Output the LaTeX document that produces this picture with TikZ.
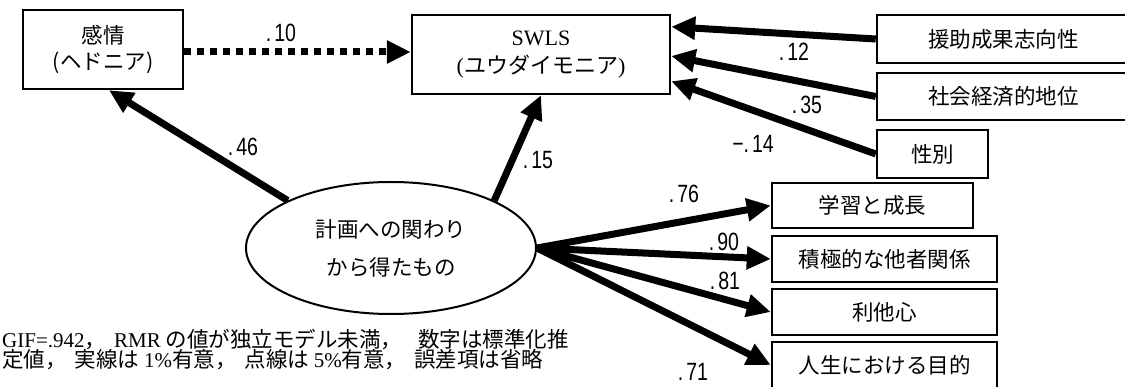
\documentclass[tikz,border=0pt]{standalone}
\usepackage{fontspec}
\setmainfont{Liberation Serif}
\newfontfamily\jp{Noto Sans CJK JP}
\newfontfamily\num[FakeStretch=0.78]{Liberation Sans}
\newcommand\lat[1]{{\rmfamily\fontsize{21}{21}\selectfont #1}}
\usetikzlibrary{arrows.meta,shapes.geometric,calc}
\begin{document}
\begin{tikzpicture}[x=1pt,y=-1pt,
  box/.style={draw, line width=2.5pt, rectangle, inner sep=0pt, align=center, font=\jp\fontsize{21.5}{26}\selectfont},
  arr/.style={line width=7pt, -{Triangle[length=24pt,width=22pt]}},
  dotarr/.style={arr, dash pattern=on 7pt off 6pt},
  lbl/.style={inner sep=0pt, font=\num\fontsize{25}{25}\selectfont},
  captext/.style={inner sep=0pt, anchor=base west, align=left, font=\jp\fontsize{21.5}{21.5}\selectfont}]
\useasboundingbox (0,0) rectangle (1125,387);
% boxes
\node[box, minimum width=160pt, minimum height=79pt] (kanjo) at (103,49.5) {感情\\(ヘドニア)};
\node[box, minimum width=258pt, minimum height=79pt, font=\rmfamily\fontsize{22}{28}\selectfont] (swls) at (541,54.5) {SWLS\\({\jp ユウダイモニア})};
\node[box, minimum width=253pt, minimum height=48pt] (enjo) at (1003.5,39) {援助成果志向性};
\node[box, minimum width=253pt, minimum height=47pt] (shakai) at (1003.5,96.5) {社会経済的地位};
\node[box, minimum width=111pt, minimum height=48pt] (seibetsu) at (932.5,154) {性別};
\node[box, minimum width=201pt, minimum height=45pt] (gakushu) at (872.5,205.5) {学習と成長};
\node[box, minimum width=225pt, minimum height=46pt] (sekkyoku) at (884.5,259) {積極的な他者関係};
\node[box, minimum width=225pt, minimum height=46pt] (rita) at (884.5,312) {利他心};
\node[box, minimum width=225pt, minimum height=46pt] (jinsei) at (884.5,365) {人生における目的};
% ellipse
\node[draw, ellipse, line width=2pt, minimum width=290pt, minimum height=132pt, inner sep=0pt, align=center, font=\jp\fontsize{21.5}{38}\selectfont] (ell) at (391,248) {計画への関わり\\から得たもの};
% connectors
\draw[dotarr] ($(kanjo.east)+(0,2.5)$) -- ($(swls.west)+(0,-2.5)$);
\draw[arr] (ell.north west) -- ($(kanjo.south)+(6,0)$);
\draw[arr] (ell.north east) -- (swls.south);
\draw[arr] (enjo.west) -- ($(swls.north east)+(0,13)$);
\draw[arr] (shakai.west) -- ($(swls.east)+(0,1.5)$);
\draw[arr] (seibetsu.west) -- ($(swls.south east)+(0,-14)$);
\draw[arr] (ell.east) -- (gakushu.west);
\draw[arr] (ell.east) -- (sekkyoku.west);
\draw[arr] (ell.east) -- (rita.west);
\draw[arr] (ell.east) -- (jinsei.west);
% labels
\node[lbl] (l10) at (281,33) {.\kern3pt10};
\node[lbl] (l12) at (794,52) {.\kern3pt12};
\node[lbl] (l35) at (807,105) {.\kern3pt35};
\node[lbl] (l14) at (753,144) {−.\kern3pt14};
\node[lbl] (l15) at (538,160) {.\kern3pt15};
\node[lbl] (l46) at (243,147) {.\kern3pt46};
\node[lbl] (l76) at (684,194) {.\kern3pt76};
\node[lbl] (l90) at (724,242) {.\kern3pt90};
\node[lbl] (l81) at (725,281) {.\kern3pt81};
\node[lbl] (l71) at (693,372) {.\kern3pt71};
% caption
\node[captext] (cap1) at (2,348) {\lat{GIF=.942}，\hspace{8pt}\lat{RMR} の値が独立モデル未満，\hspace{16pt}数字は標準化推};
\node[captext] (cap2) at (2,367) {定値，\hspace{8pt}実線は \lat{1\%}有意，\hspace{8pt}点線は \lat{5\%}有意，\hspace{8pt}誤差項は省略};
\end{tikzpicture}
\end{document}
